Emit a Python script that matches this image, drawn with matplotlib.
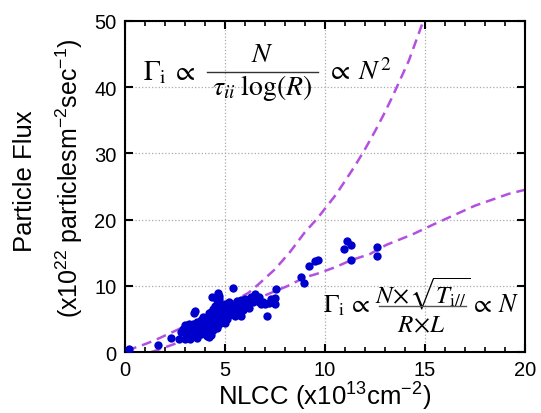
import numpy as np
import matplotlib.pyplot as plt
from matplotlib.ticker import MultipleLocator

plt.rcParams.update({'font.family': 'Liberation Sans'})
plt.rcParams.update({'mathtext.fontset': 'custom',
                     'mathtext.rm': 'Liberation Sans',
                     'mathtext.it': 'Liberation Sans:italic',
                     'mathtext.bf': 'Liberation Sans:bold'})

# measured points (NLCC, flux)
nlcc = [0.2, 1.65, 2.3, 2.7, 2.9, 3.0, 3.1, 3.2, 3.2, 3.3, 3.3, 3.4, 3.45, 3.5,
        3.5, 3.5, 3.6, 3.6, 3.7, 3.7, 3.8, 3.8, 3.8, 3.9, 3.9, 4.0, 4.0, 4.0,
        4.1, 4.1, 4.1, 4.2, 4.2, 4.2, 4.3, 4.3, 4.3, 4.4, 4.4, 4.4, 4.5, 4.5,
        4.5, 4.6, 4.6, 4.6, 4.6, 4.7, 4.7, 4.7, 4.7, 4.8, 4.8, 4.8, 4.9, 4.9,
        5.0, 5.0, 5.0, 5.1, 5.1, 5.2, 5.2, 5.3, 5.3, 5.4, 5.4, 5.4, 5.5, 5.5,
        5.6, 5.7, 5.8, 5.9, 6.0, 6.1, 6.2, 6.3, 6.4, 6.5, 6.6, 6.7, 6.8, 6.9,
        7.0, 7.1, 7.2, 7.4, 7.5, 7.55, 8.8, 8.95, 9.2, 9.5, 9.65, 10.95, 11.1,
        11.3, 11.3, 12.6, 12.6,
        4.5, 4.4, 4.3, 4.2, 3.9, 5.2, 5.6, 6.0, 6.3, 6.7, 7.3, 7.5, 5.8, 3.25,
        3.6, 4.6, 5.0, 5.5, 5.9, 6.2, 4.7, 3.0, 2.8, 4.33, 4.67, 6.5, 5.8, 4.2]
flux = [0.5, 1.1, 2.2, 2.0, 3.5, 2.0, 2.6, 3.0, 4.3, 2.3, 3.6, 4.2, 5.9, 2.9,
        3.8, 6.2, 2.4, 4.5, 3.2, 4.0, 2.8, 3.7, 4.8, 3.3, 4.3, 2.7, 3.9, 5.0,
        3.5, 4.6, 2.4, 3.0, 4.1, 5.4, 3.6, 4.8, 2.6, 4.2, 5.6, 3.3, 4.6, 5.2,
        6.2, 4.0, 5.8, 7.0, 7.8, 4.9, 6.5, 8.5, 8.0, 5.4, 6.0, 7.2, 4.6, 6.6,
        5.2, 5.9, 7.3, 6.2, 5.0, 6.8, 5.6, 6.1, 7.1, 6.5, 5.8, 9.7, 7.0, 6.2,
        6.6, 7.2, 6.5, 7.5, 7.0, 7.8, 7.4, 8.0, 7.6, 8.5, 8.0, 7.5, 7.3, 7.6,
        7.2, 5.5, 7.4, 7.8, 8.2, 9.5, 11.3, 10.4, 13.0, 13.8, 13.9, 15.6, 16.8,
        16.2, 13.9, 15.8, 14.5,
        7.0, 6.5, 6.0, 5.9, 5.3, 7.6, 7.7, 8.0, 8.4, 8.3, 8.0, 7.3, 7.9, 2.0,
        2.1, 3.6, 4.4, 5.4, 6.3, 6.7, 4.2, 4.1, 3.0, 8.3, 9.0, 8.8, 5.5, 2.3]

# N^2 trend (upper dashed curve)
sq_x = [0.1, 0.34, 1.0, 1.5, 2.5, 3.5, 4.5, 5.4, 6.2, 6.7, 7.5, 8.25, 9.0, 9.6,
        10.56, 11.0, 11.5, 12.0, 12.5, 13.0, 13.4, 14.2, 14.9]
sq_y = [0.2, 0.5, 1.2, 1.8, 3.2, 4.6, 6.1, 7.6, 9.0, 10.3, 12.5, 15.1, 18.1,
        20.1, 23.8, 25.8, 28.1, 30.6, 33.3, 36.2, 38.7, 44.0, 49.8]

# N trend (lower dashed curve)
lin_x = [1.3, 1.6, 2.45, 3.5, 4.5, 5.5, 6.95, 8.15, 9.0, 9.58, 10.5, 11.33,
         12.25, 13.08, 14.4, 15.45, 17.5, 19.2, 20.0]
lin_y = [0.0, 0.3, 1.2, 2.9, 4.6, 6.2, 8.5, 10.0, 11.3, 11.8, 12.8, 13.9,
         14.8, 16.2, 17.8, 19.3, 22.1, 23.9, 24.5]

fig = plt.figure(figsize=(5.41, 4.14), dpi=100)
ax = fig.add_axes([0.231, 0.147, 0.739, 0.8])

ax.grid(True, which='major', color='#aaaaaa', linestyle=':', linewidth=0.9)
ax.set_axisbelow(True)

ax.plot(sq_x, sq_y, color='#b450e0', lw=1.8, dashes=(4, 2.4), zorder=2)
ax.plot(lin_x, lin_y, color='#b450e0', lw=1.8, dashes=(4, 2.4), zorder=2)
ax.scatter(nlcc, flux, s=36, color='#0000cc', linewidths=0, zorder=3)

ax.set_xlim(0, 20)
ax.set_ylim(0, 50)
ax.xaxis.set_major_locator(MultipleLocator(5))
ax.xaxis.set_minor_locator(MultipleLocator(1))
ax.yaxis.set_major_locator(MultipleLocator(10))
ax.tick_params(which='both', direction='in', top=True, right=True,
               labelsize=14.5)
ax.tick_params(which='major', length=6, width=1.5, pad=6)
ax.tick_params(which='minor', length=3.5, width=1.2)
for sp in ax.spines.values():
    sp.set_linewidth(1.5)

ax.set_xlabel('NLCC (x10$^{13}$cm$^{-2}$)', fontsize=18.5, labelpad=0)
fig.text(0.046, 0.563, 'Particle Flux', rotation=90, fontsize=18.5,
         ha='center', va='center')
fig.text(0.129, 0.570, '(x10$^{22}$ particlesm$^{-2}$sec$^{-1}$)', rotation=90,
         fontsize=18, ha='center', va='center')

# formula annotations, built piece by piece (serif math)
mkw = dict(math_fontfamily='stix', va='baseline')
# upper: Gamma_i ~ N / (tau_ii log R) ~ N^2
ax.text(0.9, 41.2, r'$\Gamma_{\mathrm{i}}\;\propto$', fontsize=20, ha='left', **mkw)
ax.text(6.85, 44.0, r'$N$', fontsize=20, ha='center', **mkw)
ax.plot([4.1, 9.65], [42.3, 42.3], color='#333333', lw=1.0, zorder=4)
ax.text(6.85, 39.0, r'$\tau_{ii}\;\log(R)$', fontsize=20, ha='center', **mkw)
ax.text(10.05, 41.2, r'$\propto\;N^2$', fontsize=20, ha='left', **mkw)
# lower: Gamma_i ~ N sqrt(T) / (R L) ~ N
ax.text(9.9, 6.2, r'$\Gamma_{\mathrm{i}}\,\propto$', fontsize=18.5, ha='left', **mkw)
ax.text(14.9, 7.55, r'$N\!\times\!\sqrt{T_{\mathrm{i//}}}$', fontsize=18, ha='center', **mkw)
ax.plot([12.7, 17.05], [6.95, 6.95], color='#555555', lw=1.0, zorder=4)
ax.text(14.85, 3.17, r'$R\!\times\!L$', fontsize=18, ha='center', **mkw)
ax.text(17.25, 6.2, r'$\propto\,N$', fontsize=18.5, ha='left', **mkw)

fig.savefig('out.png', dpi=100)
